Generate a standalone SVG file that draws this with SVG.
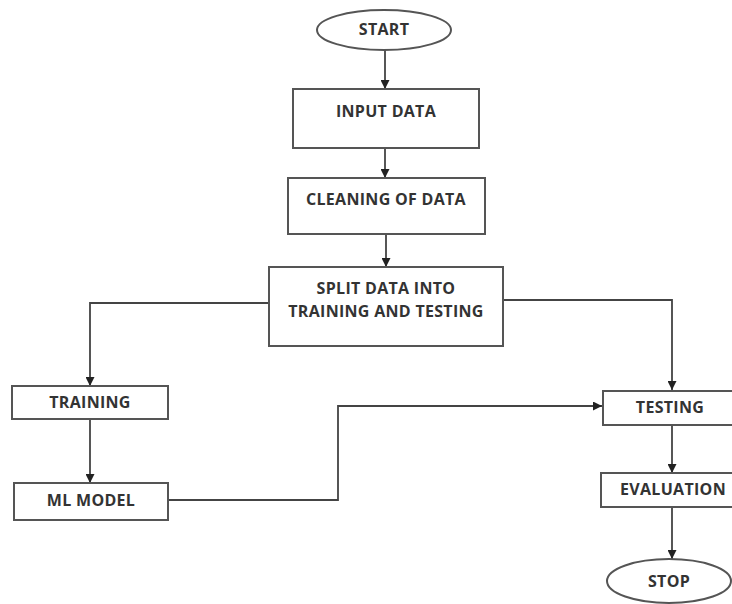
<svg xmlns="http://www.w3.org/2000/svg" width="732" height="604" viewBox="0 0 732 604">
<defs>
<marker id="ah" viewBox="0 0 10 10" refX="10" refY="5" markerWidth="5" markerHeight="5" orient="auto" markerUnits="strokeWidth">
<path d="M0,0 L10,5 L0,10 z" fill="#222"/>
</marker>
<style>
.box{fill:#fff;stroke:#555;stroke-width:2}
.t{font-family:"Open Sans","Liberation Sans",sans-serif;font-weight:bold;font-size:16px;letter-spacing:0.3px;fill:#333;text-anchor:middle;dominant-baseline:middle}
.c{fill:none;stroke:#444;stroke-width:1.8;marker-end:url(#ah)}
</style>
</defs>
<rect width="732" height="604" fill="#fff"/>
<g id="connectors">
<path class="c" d="M385,50 V89"/>
<path class="c" d="M385,148 V178"/>
<path class="c" d="M386,234 V267"/>
<path class="c" d="M269,303 H90 V386"/>
<path class="c" d="M503,300 H672 V390"/>
<path class="c" d="M90,419 V483"/>
<path class="c" d="M168,500 H338 V406 H602"/>
<path class="c" d="M672,425 V473"/>
<path class="c" d="M672,507 V559"/>
</g>
<g id="start"><ellipse class="box" cx="384" cy="30" rx="67" ry="20"/><text class="t" x="384" y="31">START</text></g>
<g id="input"><rect class="box" x="293" y="89" width="186" height="59"/><text class="t" x="386" y="113">INPUT DATA</text></g>
<g id="cleaning"><rect class="box" x="288" y="178" width="197" height="56"/><text class="t" x="386" y="201">CLEANING OF DATA</text></g>
<g id="split"><rect class="box" x="269" y="267" width="234" height="79"/><text class="t" x="386" y="290">SPLIT DATA INTO</text><text class="t" x="386" y="313">TRAINING AND TESTING</text></g>
<g id="training"><rect class="box" x="12" y="386" width="156" height="33"/><text class="t" x="90" y="404">TRAINING</text></g>
<g id="mlmodel"><rect class="box" x="14" y="483" width="154" height="37"/><text class="t" x="91" y="502">ML MODEL</text></g>
<g id="testing"><rect class="box" x="603" y="391" width="140" height="34"/><text class="t" x="670" y="409">TESTING</text></g>
<g id="evaluation"><rect class="box" x="601" y="473" width="142" height="34"/><text class="t" x="673" y="491">EVALUATION</text></g>
<g id="stop"><ellipse class="box" cx="669" cy="581" rx="62" ry="22"/><text class="t" x="669" y="583">STOP</text></g>
</svg>
